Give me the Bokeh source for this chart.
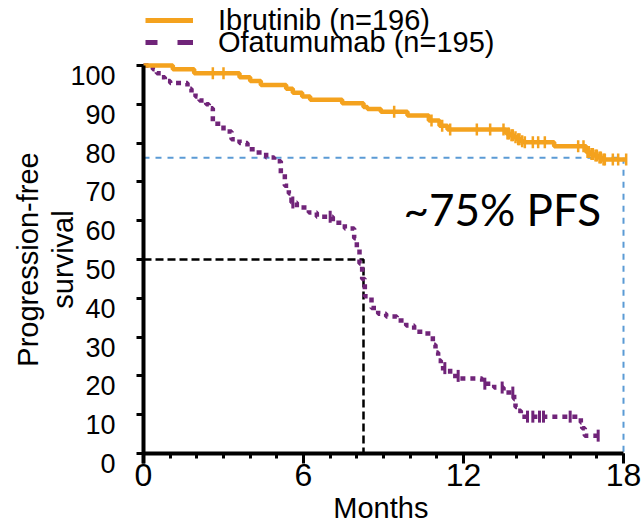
import numpy as np
from bokeh.plotting import figure
from bokeh.models import (Range1d, FixedTicker, Label, Legend, LegendItem,
                          CustomJSTickFormatter)
from bokeh.embed import file_html
from bokeh.resources import INLINE

# ---------------- data ----------------
ibr_name = "Ibrutinib (n=196)"
ofa_name = "Ofatumumab (n=195)"

ibr_times = [0, 1.1, 1.9, 3.6, 4.0, 4.4, 5.35, 5.6, 5.95, 6.25,
             7.45, 8.25, 8.4, 8.9, 9.9, 10.7, 11.1, 11.4, 13.6, 13.75,
             13.9, 14.0, 14.15, 14.25, 15.4, 16.6, 16.75, 16.9, 17.05, 17.2,
             18.1]
ibr_surv = [100, 99, 98, 97, 96, 95, 94, 93, 92, 91.2,
            90.3, 89.3, 88.8, 88.1, 87.1, 85.8, 84.5, 83.5, 82.5, 82,
            81.5, 81, 80.5, 80.2, 79.2, 77.7, 77.2, 76.8, 76.3, 75.8,
            75.8]
ibr_censor = [2.6, 3.0, 9.4, 10.8, 11.2, 11.5, 12.5, 13.0, 13.5, 13.65,
              13.7, 13.8, 13.85, 13.95, 14.05, 14.1, 14.2, 14.3, 14.6, 14.8,
              15.05, 16.3, 16.5, 16.65, 16.7, 16.8, 16.85, 16.95, 17.0, 17.1,
              17.15, 17.25, 17.3, 17.6, 17.8, 18.1]

ofa_times = [0, 0.35, 0.5, 0.65, 0.8, 1.0, 1.65, 1.8, 1.95, 2.1,
             2.35, 2.45, 2.6, 3.0, 3.3, 3.6, 3.9, 4.2, 4.6, 4.9,
             5.15, 5.3, 5.45, 5.55, 5.75, 6.2, 6.5, 7.1, 7.55, 7.9,
             8.0, 8.1, 8.2, 8.3, 8.55, 8.8, 9.1, 9.5, 9.85, 10.15,
             10.5, 10.85, 10.95, 11.05, 11.15, 11.5, 11.85, 12.7, 13.15, 13.5,
             13.9, 13.95, 14.05, 14.15, 16.4, 16.45, 16.55, 17.05]
ofa_surv = [100, 99, 98, 97, 96, 95.5, 94, 93, 92, 91,
            90, 89, 85, 83, 81, 80, 78.4, 77.6, 76.3, 75.3,
            72, 69, 67, 64.7, 63.4, 62.1, 61, 59.5, 58, 55.5,
            53, 49, 45, 40.5, 37.5, 36, 35.3, 34.3, 33, 31.4,
            30.9, 28, 26, 24, 22, 20, 19.3, 18, 17, 15.7,
            14, 12, 11, 9.5, 8, 6.5, 4.6, 4.6]
ofa_censor = [5.6, 7.0, 11.3, 11.8, 12.8, 13.45, 13.85, 14.4, 14.6, 14.85,
              15.0, 16.0, 17.05]

x_ticks = [0, 6, 12, 18]
x_minor = list(range(0, 19))
y_ticks = [0, 10, 20, 30, 40, 50, 60, 70, 80, 90, 100]
y_tick_labels = [str(t) for t in y_ticks]

pfs_level = 76.2       # blue reference line (~75% PFS at 18 months)
landmark_month = 18
median_level = 50      # black reference line (median PFS, ofatumumab)
median_month = 8.25
annotation = "~75% PFS"
y_title = ["Progression-free", "survival"]
x_title = "Months"

# ---------------- styles ----------------
ORANGE = "#F4A21E"
PURPLE = "#702479"
BLUE = "#5B9BD5"
FONT = "Liberation Sans"
LABEL_SHIFT = 2.6      # y labels hang below their tick (in value units)
NAN = float("nan")


def level_at(times, surv, t):
    i = int(np.searchsorted(np.asarray(times), t, side="right")) - 1
    return surv[max(i, 0)]


# the frame covers the whole canvas; axes are pinned at 0
p = figure(width=641, height=523, output_backend="svg", toolbar_location=None,
           x_range=Range1d(-5.3625, 18.675), y_range=Range1d(-18.04, 116.75),
           min_border=0)
p.outline_line_color = None
p.grid.visible = False
p.background_fill_color = "white"
p.border_fill_color = "white"

# x axis
xa = p.xaxis[0]
xa.fixed_location = 0
xa.ticker = FixedTicker(ticks=x_ticks, minor_ticks=x_minor)
xa.bounds = (0, 18)
xa.axis_line_width = 4
xa.major_tick_in = 0
xa.major_tick_out = 10
xa.major_tick_line_width = 3
xa.minor_tick_in = 0
xa.minor_tick_out = 5
xa.minor_tick_line_width = 3
xa.major_label_text_font = FONT
xa.major_label_text_font_size = "32px"
xa.major_label_text_color = "black"
xa.major_label_standoff = 0

# y axis: tick marks as minor ticks, labels on (invisible) major ticks below them
ya = p.yaxis[0]
ya.fixed_location = 0
label_pos = [t - LABEL_SHIFT for t in y_ticks]
ya.ticker = FixedTicker(ticks=label_pos, minor_ticks=y_ticks)
ya.formatter = CustomJSTickFormatter(
    args=dict(positions=label_pos, names=y_tick_labels),
    code="""
        for (let i = 0; i < positions.length; i++) {
            if (Math.abs(positions[i] - tick) < 1e-6) { return names[i] }
        }
        return ""
    """)
ya.bounds = (-LABEL_SHIFT, 100)
ya.axis_line_width = 4
ya.major_tick_in = 0
ya.major_tick_out = 0
ya.major_tick_line_color = None
ya.minor_tick_in = 0
ya.minor_tick_out = 7
ya.minor_tick_line_width = 3
ya.minor_tick_line_color = "black"
ya.major_label_text_font = FONT
ya.major_label_text_font_size = "27px"
ya.major_label_text_color = "black"
ya.major_label_standoff = 21

# axis titles
p.add_layout(Label(x=0, y=50, x_offset=-116, text=y_title[0], angle=np.pi / 2,
                   text_align="center", text_baseline="alphabetic",
                   text_font=FONT, text_font_size="29px", text_color="black"))
p.add_layout(Label(x=0, y=50, x_offset=-81, text=y_title[1], angle=np.pi / 2,
                   text_align="center", text_baseline="alphabetic",
                   text_font=FONT, text_font_size="29px", text_color="black"))
p.add_layout(Label(x=8.9, y=0, y_offset=-54, text=x_title,
                   text_align="center", text_baseline="alphabetic",
                   text_font=FONT, text_font_size="29px", text_color="black"))

# reference lines
p.line([0, landmark_month, landmark_month], [pfs_level, pfs_level, 0],
       line_color=BLUE, line_width=2, line_dash="6 6")
p.line([0, median_month, median_month], [median_level, median_level, 0],
       line_color="black", line_width=2.5, line_dash="8 4")

# curves
p.step(ofa_times, ofa_surv, mode="after", line_color=PURPLE, line_width=4.5,
       line_dash="5 5")
p.scatter(ofa_censor, [level_at(ofa_times, ofa_surv, t) for t in ofa_censor],
          marker="dash", angle=np.pi / 2, size=12, line_color=PURPLE,
          line_width=3, fill_color=None)

p.step(ibr_times, ibr_surv, mode="after", line_color=ORANGE, line_width=4.5)
p.scatter(ibr_censor, [level_at(ibr_times, ibr_surv, t) for t in ibr_censor],
          marker="dash", angle=np.pi / 2, size=12, line_color=ORANGE,
          line_width=2.5, fill_color=None)

# annotation text
p.add_layout(Label(x=9.75, y=63.1, text=annotation, text_align="left",
                   text_baseline="alphabetic", text_font="Lato",
                   text_font_size="44px", text_color="black"))

# legend (two one-item legends at the top of the canvas; proxy renderers draw nothing)
leg_ibr = p.line(x=[NAN], y=[NAN], line_color=ORANGE, line_width=5)
leg_ofa = p.line(x=[NAN], y=[NAN], line_color=PURPLE, line_width=5,
                 line_dash="12 20 16 20")

for name, rend, loc in [(ibr_name, leg_ibr, (145, 486)), (ofa_name, leg_ofa, (145, 464))]:
    lg = Legend(items=[LegendItem(label=name, renderers=[rend])], location=loc,
                orientation="vertical", padding=0, margin=0, spacing=0,
                glyph_width=48, glyph_height=16, label_height=34,
                label_standoff=25, label_text_font=FONT,
                label_text_font_size="29px", label_text_color="black",
                border_line_color=None, background_fill_alpha=0)
    p.add_layout(lg)

open("out.html", "w").write(file_html(p, INLINE))
